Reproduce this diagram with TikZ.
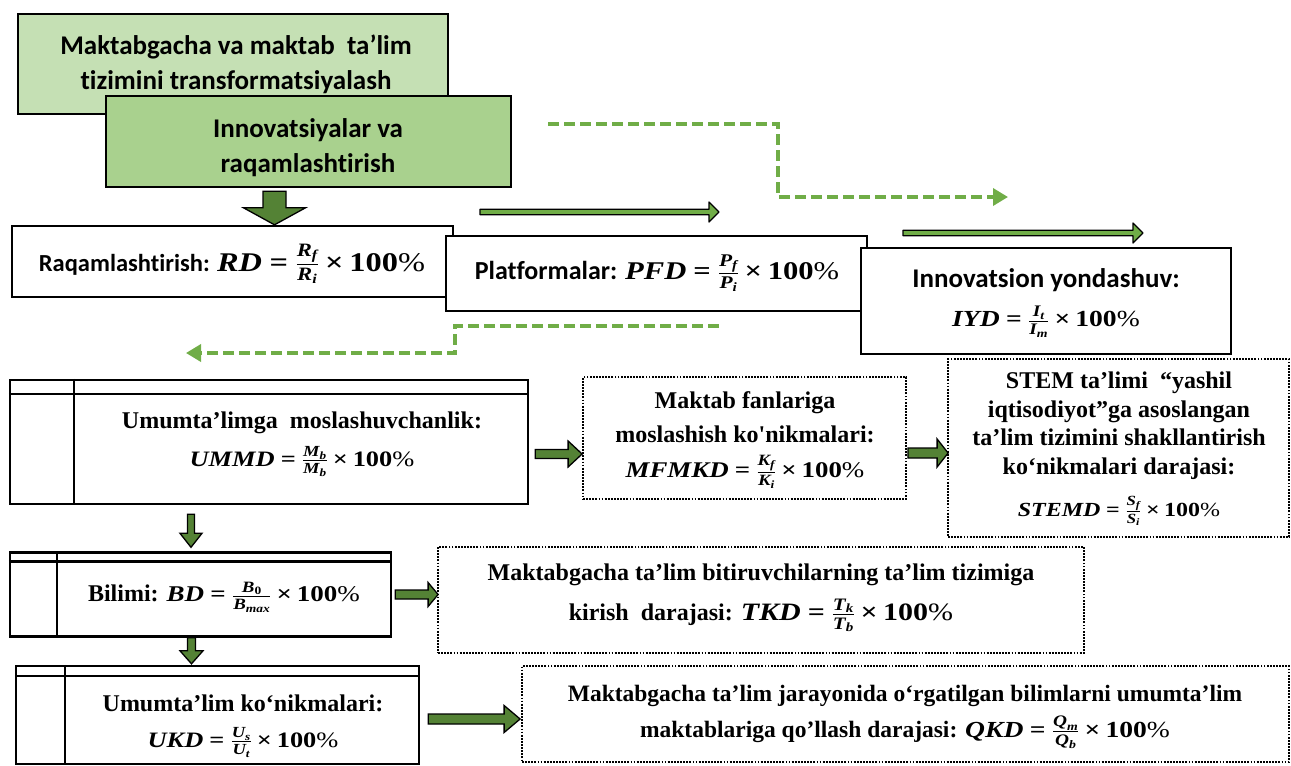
\RequirePackage{fix-cm}
\documentclass[tikz,border=0pt]{standalone}
\usepackage{amsmath}
\usepackage{fontspec}
\newfontfamily\carl{Carlito}[Ligatures=CommonOff]
\newfontfamily\tnr{Liberation Serif}
\newfontfamily\fmf{Liberation Serif}[FakeStretch=1.2]
\usetikzlibrary{arrows.meta,calc}
\definecolor{lgA}{HTML}{C5E0B4}
\definecolor{lgB}{HTML}{A9D18E}
\definecolor{dg}{HTML}{548235}
\definecolor{lg}{HTML}{70AD47}
% formula pieces set in a bold italic serif
\newcommand\fv[1]{\text{\fmf\bfseries\itshape #1}}
\newcommand\fml[4]{{\fontsize{#1}{#1}\selectfont$\fv{#2}\mathrel{\text{\fmf\bfseries =}}\genfrac{}{}{1.1pt}{}{#3}{#4}\mathbin{\text{\fmf\bfseries ×}}\text{\fmf\bfseries 100\mdseries\%}$}}
% horizontal block arrow: start point, end point, stem half, head half, head length, style
\newcommand\hblk[6]{\draw[#6] let \p1=#1, \p2=#2 in
  (\x1,\y1+#3pt) -- (\x2-#5pt,\y1+#3pt) -- (\x2-#5pt,\y1+#4pt) -- (\x2,\y1)
  -- (\x2-#5pt,\y1-#4pt) -- (\x2-#5pt,\y1-#3pt) -- (\x1,\y1-#3pt) -- cycle;}
% vertical block arrow (downwards)
\newcommand\vblk[6]{\draw[#6] let \p1=#1, \p2=#2 in
  (\x1-#3pt,\y1) -- (\x1-#3pt,\y2+#5pt) -- (\x1-#4pt,\y2+#5pt) -- (\x1,\y2)
  -- (\x1+#4pt,\y2+#5pt) -- (\x1+#3pt,\y2+#5pt) -- (\x1+#3pt,\y1) -- cycle;}
\begin{document}
\begin{tikzpicture}[x=1pt,y=-1pt,
  sbox/.style={draw,line width=2.4pt,inner sep=0pt},
  dbox/.style={draw,line width=1.8pt,dash pattern=on 1.8pt off 1.3pt,inner sep=0pt},
  ctxt/.style={font=\carl\bfseries\fontsize{27}{35}\selectfont,align=center,inner sep=0pt},
  ttxt/.style={font=\tnr\bfseries\fontsize{24}{34}\selectfont,align=center,inner sep=0pt},
  blkd/.style={draw=black,line width=1.3pt,fill=dg,line join=miter},
  blkl/.style={draw=black,line width=1.3pt,fill=lg,line join=round},
  dashc/.style={draw=lg,line width=3.5pt,dash pattern=on 11pt off 5pt,-{Triangle[length=15pt,width=17pt,fill=lg]}},
]
\useasboundingbox (0,0) rectangle (1291,766);

% top green boxes
\node[sbox,fill=lgA,minimum width=430pt,minimum height=100pt] (A) at (233,64) {};
\node[ctxt] (At) at (236,64) {Maktabgacha va maktab~ ta’lim\\tizimini transformatsiyalash};
\node[sbox,fill=lgB,minimum width=405pt,minimum height=91pt] (B) at (308.5,141.5) {};
\node[ctxt] (Bt) at (308,148) {Innovatsiyalar va\\raqamlashtirish};

% second row
\node[sbox,minimum width=441pt,minimum height=71pt] (R) at (232.5,261.5) {};
\node[ctxt,font=\carl\bfseries\fontsize{24.5}{30}\selectfont] (Rt) at (232,264) {Raqamlashtirish: \fml{27}{RD}{\fv{R}_{\fv{f}}}{\fv{R}_{\fv{i}}}};
\node[sbox,fill=white,minimum width=421pt,minimum height=75pt] (P) at (656.5,273.5) {};
\node[ctxt,font=\carl\bfseries\fontsize{26}{30}\selectfont] (Pt) at (657,273) {Platformalar: \fml{25.5}{PFD}{\fv{P}_{\fv{f}}}{\fv{P}_{\fv{i}}}};
\node[sbox,fill=white,minimum width=370pt,minimum height=106pt] (I) at (1046,301) {};
\node[ctxt] (It) at (1046,303) {Innovatsion yondashuv:\\[4pt]\fml{23}{IYD}{\fv{I}_{\fv{t}}}{\fv{I}_{\fv{m}}}};

% table-like boxes on the left
\node[sbox,minimum width=518pt,minimum height=124pt] (U) at (269,442) {};
\draw[line width=2.4pt] (U.north west) ++(65,0) -- ++(0,124);
\draw[line width=2.4pt] (U.north west) ++(0,15) -- ++(518,0);
\node[ttxt] (Ut) at (302,444) {Umumta’limga~ moslashuvchanlik:\\[4pt]\fml{22}{UMMD}{\fv{M}_{\fv{b}}}{\fv{M}_{\fv{b}}}};

\node[sbox,minimum width=381pt,minimum height=84pt] (Bi) at (200.5,594.5) {};
\draw[line width=2.4pt] (Bi.north west) ++(48,0) -- ++(0,84);
\draw[line width=2.4pt] (Bi.north west) ++(0,10) -- ++(381,0);
\node[ttxt] (Bit) at (224,597) {Bilimi: \fml{22.5}{BD}{\fv{B}_{\text{\fmf\bfseries 0}}}{\fv{B}_{\fv{max}}}};

\node[sbox,minimum width=403pt,minimum height=98pt] (K) at (217.5,715) {};
\draw[line width=2.4pt] (K.north west) ++(50,0) -- ++(0,98);
\draw[line width=2.4pt] (K.north west) ++(0,11) -- ++(403,0);
\node[ttxt] (Kt) at (243,726) {Umumta’lim ko‘nikmalari:\\[2pt]\fml{22}{UKD}{\fv{U}_{\fv{s}}}{\fv{U}_{\fv{t}}}};

% dotted boxes
\node[dbox,minimum width=323pt,minimum height=122pt] (MF) at (744.5,438) {};
\node[ttxt] (MFt) at (745,440) {Maktab fanlariga\\moslashish ko\textquotesingle nikmalari:\\[1pt]\fml{22.4}{MFMKD}{\fv{K}_{\fv{f}}}{\fv{K}_{\fv{i}}}};
\node[dbox,minimum width=341pt,minimum height=178pt] (ST) at (1118.5,448) {};
\node[ttxt,font=\tnr\bfseries\fontsize{24}{28.5}\selectfont] (STt) at (1119,449) {STEM ta’limi~ “yashil\\iqtisodiyot”ga asoslangan\\ta’lim tizimini shakllantirish\\ko‘nikmalari darajasi:\\[14pt]\fml{20}{STEMD}{\fv{S}_{\fv{f}}}{\fv{S}_{\fv{i}}}};
\node[dbox,minimum width=646pt,minimum height=106pt] (T) at (761,600) {};
\node[ttxt,font=\tnr\bfseries\fontsize{24}{40}\selectfont] (Tt) at (761,598) {Maktabgacha ta’lim bitiruvchilarning ta’lim tizimiga\\kirish~ darajasi: \fml{25}{TKD}{\fv{T}_{\fv{k}}}{\fv{T}_{\fv{b}}}};
\node[dbox,minimum width=767pt,minimum height=96pt] (Q) at (905.5,714) {};
\node[ttxt,font=\tnr\bfseries\fontsize{23.5}{36}\selectfont] (Qt) at (905,717) {Maktabgacha ta’lim jarayonida o‘rgatilgan bilimlarni umumta’lim\\maktablariga qo’llash darajasi: \fml{23}{QKD}{\fv{Q}_{\fv{m}}}{\fv{Q}_{\fv{b}}}};

% block arrows
\vblk{($(B.south)+(-34,3)$)}{(R.north)}{11.5}{31}{17}{blkd}
\vblk{($(U.south)+(-78,9)$)}{($(Bi.north)+(-9,-4)$)}{3.5}{11}{14}{blkd}
\vblk{($(Bi.south)+(-9,0)$)}{($(K.north)+(-26,-1)$)}{4}{11.5}{13}{blkd}
\hblk{($(U.east)+(6,12)$)}{($(MF.west)+(0,16)$)}{4.5}{13}{14}{blkd}
\hblk{($(MF.east)+(1,15)$)}{($(ST.west)+(1,5)$)}{5}{14}{11}{blkd}
\hblk{($(Bi.east)+(3,0)$)}{($(T.west)+(1,-5)$)}{4.5}{12}{10}{blkd}
\hblk{($(K.east)+(8,4)$)}{($(Q.west)+(-1,5)$)}{5}{13.5}{16}{blkd}

% thin green arrows
\coordinate (g1s) at (480,212);
\coordinate (g1e) at (719,212);
\coordinate (g2s) at (903,233);
\coordinate (g2e) at (1143,233);
\hblk{(g1s)}{(g1e)}{2.8}{10}{10}{blkl}
\hblk{(g2s)}{(g2e)}{2.8}{10}{10}{blkl}

% dashed green connectors
\coordinate (d1s) at (548,124);
\coordinate (d1e) at (1008,197);
\draw[dashc] (d1s) -- (778,124) -- (778,197) -- (d1e);
\coordinate (d2s) at (719,326);
\coordinate (d2e) at (186,353);
\draw[dashc] (d2s) -- (455,326) -- (455,353) -- (d2e);
\end{tikzpicture}
\end{document}
